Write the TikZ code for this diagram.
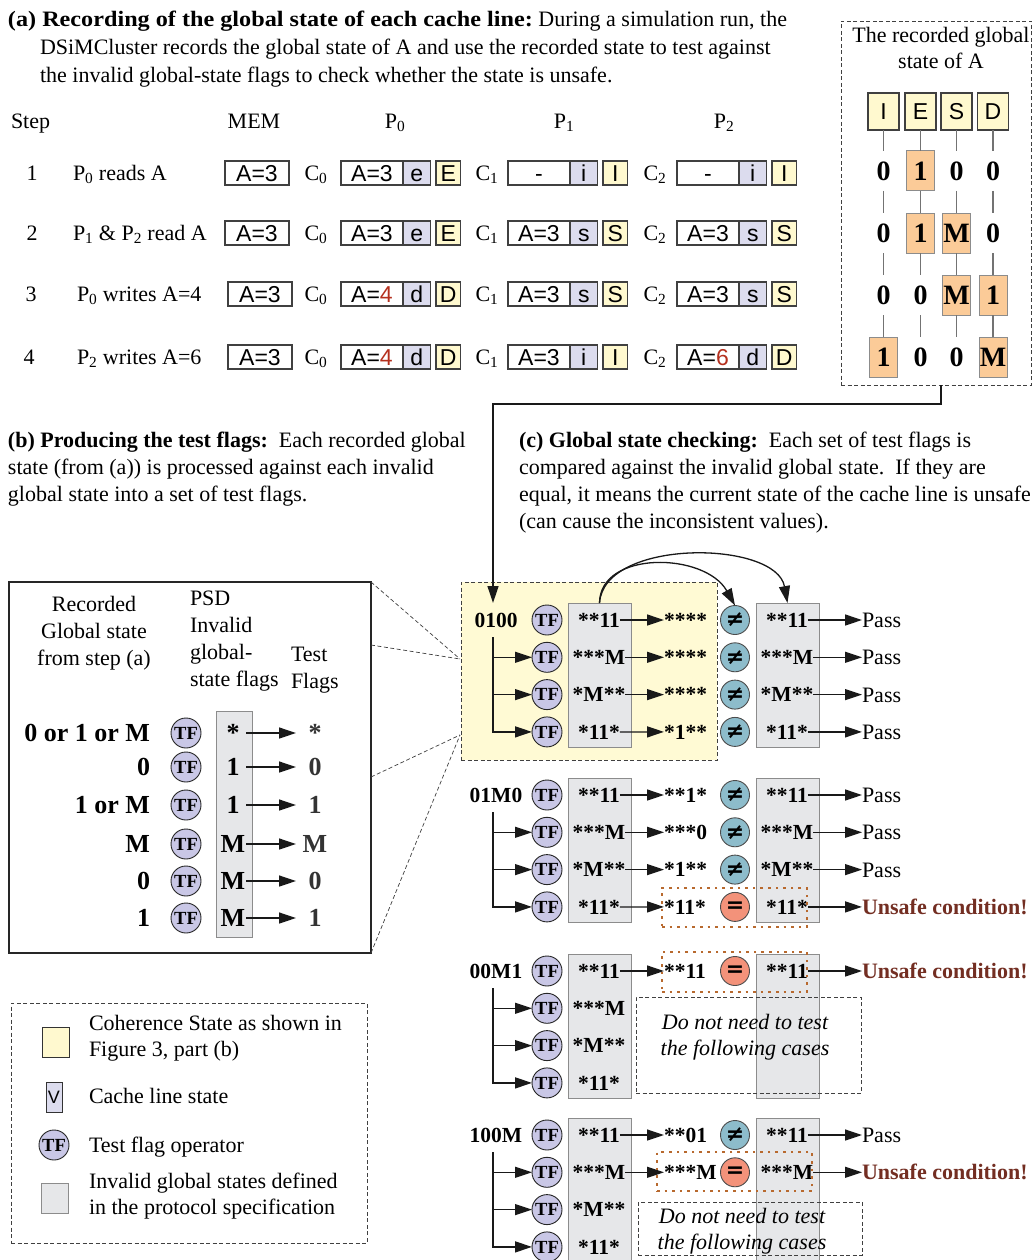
\documentclass[tikz,border=0pt]{standalone}
\usepackage{fontspec}
\setmainfont{Liberation Serif}
\newfontfamily\cellfont{Liberation Sans}
\newfontfamily\symfont{DejaVu Sans}
\usetikzlibrary{arrows.meta,calc}

\definecolor{cohY}{HTML}{FFF9CF}
\definecolor{lineSt}{HTML}{DCDCEE}
\definecolor{tfFill}{HTML}{C9C7E6}
\definecolor{neqFill}{HTML}{8DBCCB}
\definecolor{eqFill}{HTML}{F3927A}
\definecolor{invGray}{HTML}{E6E7E9}
\definecolor{hiOrange}{HTML}{FBCB98}
\definecolor{areaY}{HTML}{FFFAD4}
\definecolor{alertRed}{HTML}{732E22}
\definecolor{digitRed}{HTML}{B5301E}
\definecolor{hiliteC}{HTML}{B8692E}

\tikzset{
  lbl/.style={font=\fontsize{22}{26}\selectfont, text height=14.8pt, text depth=0pt},
  lblw/.style={lbl, anchor=west},
  itl/.style={lbl, font=\fontsize{22}{26}\selectfont\itshape},
  bigflag/.style={font=\bfseries\fontsize{26}{26}\selectfont, text height=17.5pt, text depth=0pt},
  flag/.style={font=\bfseries\fontsize{21.5}{21.5}\selectfont, text height=14.3pt, text depth=0pt},
  datacell/.style={draw=black!75, line width=1.1pt, fill=white, anchor=west, minimum height=24pt,
    text height=16.5pt, text depth=0pt, font=\cellfont\fontsize{23}{23}\selectfont},
  statecell/.style={datacell, fill=lineSt, minimum width=27.5pt},
  cohcell/.style={datacell, fill=cohY, minimum width=24.5pt},
  hdrcell/.style={draw=black!75, line width=1.1pt, fill=cohY, minimum width=31pt, minimum height=37pt,
    text height=16pt, text depth=0pt, font=\cellfont\fontsize{23}{23}\selectfont},
  rpcell/.style={minimum width=28pt, minimum height=40pt, text height=19pt, text depth=0pt,
    font=\bfseries\fontsize{28}{28}\selectfont},
  rphot/.style={rpcell, draw=black!45, line width=1pt, fill=hiOrange},
  vline/.style={draw=black!55, line width=1.2pt},
  tf/.style={circle, draw=black!85, line width=0.9pt, fill=tfFill, minimum size=30pt,
    text height=12.5pt, text depth=0pt, font=\bfseries\fontsize{18.5}{18.5}\selectfont},
  cmpcirc/.style={circle, draw=black!70, line width=0.9pt, minimum size=29pt,
    font=\symfont\bfseries\fontsize{22}{22}\selectfont},
  neq/.style={cmpcirc, fill=neqFill},
  eqc/.style={cmpcirc, fill=eqFill},
  graycol/.style={draw=black!45, line width=1pt, fill=invGray, minimum width=63pt},
  conn/.style={line width=1.3pt, draw=black!90},
  arr/.style={conn, -{Triangle[length=17pt,width=11pt]}},
  dashbox/.style={draw=black!75, line width=0.8pt, dash pattern=on 4pt off 2.5pt},
  zoomline/.style={draw=black!75, line width=0.7pt, dash pattern=on 4pt off 2.5pt},
  hilite/.style={draw=hiliteC, line width=2.6pt, dash pattern=on 2.6pt off 5pt},
  outc/.style={lbl, anchor=west},
  pass/.style={outc},
  unsafe/.style={outc, font=\bfseries\fontsize{22}{26}\selectfont, text=alertRed},
}

% symbols and outcome texts looked up by style name
\newcommand{\txtneq}{≠}
\newcommand{\txteqc}{=}
\newcommand{\txtpass}{Pass}
\newcommand{\txtunsafe}{Unsafe condition!}

% one cache: data field, cache-line state, coherence state
\newcommand{\cacheentry}[6]{%
  \node[datacell, minimum width=62pt] (#1d) at (#2,#3) {#4};
  \node[statecell] (#1s) at (#1d.east) {#5};
  \node[cohcell] (#1c) at ([xshift=5.5pt]#1s.east) {#6};
}

% recorded state fed into four test-flag operators
\newcommand{\checkgroup}[3]{%
  \node[graycol, minimum height=144pt] (#1ca) at (599.5,#3+55) {};
  \node[graycol, minimum height=144pt] (#1cb) at (787.5,#3+55) {};
  \node[flag] (#1lab) at (496,#3) {#2};
  \coordinate (#1root) at (493,#3+17);
  \foreach \k/\t in {1/{**11},2/{***M},3/{*M**},4/{*11*}}{
    \node[tf] (#1tf\k) at (547,#3+\k*37.3-37.3) {TF};
    \node[flag] (#1a\k) at (599,#3+\k*37.3-37.3) {\t};
  }
  \draw[arr] (#1root |- #1tf2) -- (#1tf2);
  \draw[arr] (#1root |- #1tf3) -- (#1tf3);
  \draw[arr] (#1root) |- (#1tf4);
}

% test flags compared with the invalid global state
\newcommand{\testrow}[7]{%
  \node[flag, anchor=west] (#1r#2) at (664,#3) {#4};
  \draw[arr] (#1a#2) -- (#1r#2);
  \node[#5] (#1q#2) at (735,#3) {\csname txt#5\endcsname};
  \node[flag] (#1b#2) at (787,#3) {#6};
  \node[#7] (#1o#2) at (862,#3) {\csname txt#7\endcsname};
  \draw[arr] (#1b#2) -- (#1o#2);
}

\begin{document}
\begin{tikzpicture}[x=1pt,y=-1pt, every node/.style={inner sep=0pt, outer sep=0pt}]
\fill[white] (0,0) rectangle (1035,1260);
\useasboundingbox (0,0) rectangle (1035,1260);

% ---------- (a) heading ----------
\node[lblw] (ha1) at (8,19) {\scalebox{1.1}[1]{\textbf{(a) Recording of the global state of each cache line:}} During a simulation run, the};
\node[lblw] (ha2) at (40,47) {DSiMCluster records the global state of A and use the recorded state to test against};
\node[lblw] (ha3) at (40,75) {the invalid global-state flags to check whether the state is unsafe.};

% ---------- step table ----------
\node[lblw] (hstep) at (11,121) {Step};
\node[lbl] (hmem) at (254,121) {MEM};
\node[lbl] (hp0) at (395,121) {P\textsubscript{0}};
\node[lbl] (hp1) at (564,121) {P\textsubscript{1}};
\node[lbl] (hp2) at (724,121) {P\textsubscript{2}};

\node[lbl] (n1) at (32,173) {1};
\node[lblw] (t1) at (73,173) {P\textsubscript{0} reads A};
\node[datacell, minimum width=64pt] (m1) at (225,173) {A=3};
\node[lbl] (ca1) at (316,173) {C\textsubscript{0}};
\cacheentry{pa1}{341}{173}{A=3}{e}{E}
\node[lbl] (cb1) at (487,173) {C\textsubscript{1}};
\cacheentry{pb1}{508}{173}{-}{i}{I}
\node[lbl] (cc1) at (655,173) {C\textsubscript{2}};
\cacheentry{pc1}{677}{173}{-}{i}{I}

\node[lbl] (n2) at (32,233) {2};
\node[lblw] (t2) at (73,233) {P\textsubscript{1} \& P\textsubscript{2} read A};
\node[datacell, minimum width=64pt] (m2) at (225,233) {A=3};
\node[lbl] (ca2) at (316,233) {C\textsubscript{0}};
\cacheentry{pa2}{341}{233}{A=3}{e}{E}
\node[lbl] (cb2) at (487,233) {C\textsubscript{1}};
\cacheentry{pb2}{508}{233}{A=3}{s}{S}
\node[lbl] (cc2) at (655,233) {C\textsubscript{2}};
\cacheentry{pc2}{677}{233}{A=3}{s}{S}

\node[lbl] (n3) at (31,294) {3};
\node[lblw] (t3) at (77,294) {P\textsubscript{0} writes A=4};
\node[datacell, minimum width=64pt] (m3) at (228,294) {A=3};
\node[lbl] (ca3) at (316,294) {C\textsubscript{0}};
\cacheentry{pa3}{341}{294}{A=\textcolor{digitRed}{4}}{d}{D}
\node[lbl] (cb3) at (487,294) {C\textsubscript{1}};
\cacheentry{pb3}{508}{294}{A=3}{s}{S}
\node[lbl] (cc3) at (655,294) {C\textsubscript{2}};
\cacheentry{pc3}{677}{294}{A=3}{s}{S}

\node[lbl] (n4) at (29,357) {4};
\node[lblw] (t4) at (77,357) {P\textsubscript{2} writes A=6};
\node[datacell, minimum width=64pt] (m4) at (228,357) {A=3};
\node[lbl] (ca4) at (316,357) {C\textsubscript{0}};
\cacheentry{pa4}{341}{357}{A=\textcolor{digitRed}{4}}{d}{D}
\node[lbl] (cb4) at (487,357) {C\textsubscript{1}};
\cacheentry{pb4}{508}{357}{A=3}{i}{I}
\node[lbl] (cc4) at (655,357) {C\textsubscript{2}};
\cacheentry{pc4}{677}{357}{A=\textcolor{digitRed}{6}}{d}{D}

% ---------- recorded global state ----------
\node[dashbox, minimum width=190pt, minimum height=364pt] (rp) at (936,203) {};
\node[lbl] (rpt1) at (941,35) {The recorded global};
\node[lbl] (rpt2) at (941,61) {state of A};
\node[hdrcell] (rph1) at (883.5,111.5) {I};
\node[hdrcell] (rph2) at (920.5,111.5) {E};
\node[hdrcell] (rph3) at (956.5,111.5) {S};
\node[hdrcell] (rph4) at (993,111.5) {D};

\node[rpcell] (rp11) at (883.5,171) {0};
\node[rphot]  (rp12) at (920.5,171) {1};
\node[rpcell] (rp13) at (956.5,171) {0};
\node[rpcell] (rp14) at (993,171) {0};

\node[rpcell] (rp21) at (883.5,233) {0};
\node[rphot]  (rp22) at (920.5,233) {1};
\node[rphot]  (rp23) at (956.5,233) {M};
\node[rpcell] (rp24) at (993,233) {0};

\node[rpcell] (rp31) at (883.5,295) {0};
\node[rpcell] (rp32) at (920.5,295) {0};
\node[rphot]  (rp33) at (956.5,295) {M};
\node[rphot]  (rp34) at (993,295) {1};

\node[rphot]  (rp41) at (883.5,357) {1};
\node[rpcell] (rp42) at (920.5,357) {0};
\node[rpcell] (rp43) at (956.5,357) {0};
\node[rphot]  (rp44) at (993,357) {M};

\foreach \j in {1,2,3,4}{
  \draw[vline] (rph\j) -- (rp1\j);
  \draw[vline] (rp1\j) -- (rp2\j);
  \draw[vline] (rp2\j) -- (rp3\j);
  \draw[vline] (rp3\j) -- (rp4\j);
}

% ---------- (b) heading ----------
\node[lblw] (hb1) at (8,440) {\textbf{(b) Producing the test flags:}\ \ Each recorded global};
\node[lblw] (hb2) at (8,467) {state (from (a)) is processed against each invalid};
\node[lblw] (hb3) at (8,494) {global state into a set of test flags.};

% ---------- (c) heading ----------
\node[lblw] (hc1) at (519,440) {\textbf{(c) Global state checking:}\ \ Each set of test flags is};
\node[lblw] (hc2) at (519,467) {compared against the invalid global state.\ \ If they are};
\node[lblw] (hc3) at (519,494) {equal, it means the current state of the cache line is unsafe};
\node[lblw] (hc4) at (519,521) {(can cause the inconsistent values).};

% ---------- (b) test-flag table ----------
\node[draw=black!85, line width=1.2pt, minimum width=362pt, minimum height=371pt] (bb) at (190,767.5) {};
\node[lbl] (bh1) at (94,604) {Recorded};
\node[lbl] (bh2) at (94,631) {Global state};
\node[lbl] (bh3) at (94,658) {from step (a)};
\node[lblw] (bh4) at (190,598) {PSD};
\node[lblw] (bh5) at (190,625) {Invalid};
\node[lblw] (bh6) at (190,652) {global-};
\node[lblw] (bh7) at (190,679) {state flags};
\node[lblw] (bh8) at (291,654) {Test};
\node[lblw] (bh9) at (291,681) {Flags};
\node[graycol, minimum width=36pt, minimum height=226pt] (bcol) at (234,824) {};
\foreach \k/\y/\l/\v/\f in {1/733/{0 or 1 or M}/{*}/{*}, 2/767/0/1/0, 3/805/{1 or M}/1/1,
                            4/844/M/M/M, 5/881/0/M/0, 6/918/1/M/1}{
  \node[bigflag, anchor=east] (bl\k) at (150,\y) {\l};
  \node[tf] (btf\k) at (186,\y) {TF};
  \node[bigflag, minimum width=26pt] (bv\k) at (233,\y) {\v};
  \node[bigflag, minimum width=38pt, text=black!80] (bt\k) at (315,\y) {\f};
  \draw[arr] (bv\k) -- (bt\k);
}

% ---------- (c) checking ----------
\node[dashbox, fill=areaY, minimum width=256pt, minimum height=178pt] (ybox) at (589,671) {};
\coordinate (zA) at (460,659);
\coordinate (zB) at (460,735);
\draw[zoomline] (bb.north east) -- (zA);
\draw[zoomline] ([yshift=-63pt]bb.north east) -- (zA);
\draw[zoomline] ([yshift=-195pt]bb.north east) -- (zB);
\draw[zoomline] (bb.south east) -- (zB);

\checkgroup{g1}{0100}{620}
\testrow{g1}{1}{620}{****}{neq}{**11}{pass}
\testrow{g1}{2}{657.3}{****}{neq}{***M}{pass}
\testrow{g1}{3}{694.6}{****}{neq}{*M**}{pass}
\testrow{g1}{4}{731.9}{*1**}{neq}{*11*}{pass}
\draw[arr] (g1ca.north) .. controls (600,550) and (705,552) .. (g1q1.north);
\draw[arr] (g1ca.north) .. controls (604,538) and (776,540) .. (g1cb.north);

\coordinate (g1in) at (493,603);
\draw[arr] ([xshift=5pt]rp.south) -- ++(0,19) -| (g1in);

\checkgroup{g2}{01M0}{795}
\testrow{g2}{1}{795}{**1*}{neq}{**11}{pass}
\testrow{g2}{2}{832.3}{***0}{neq}{***M}{pass}
\testrow{g2}{3}{869.6}{*1**}{neq}{*M**}{pass}
\testrow{g2}{4}{906.9}{*11*}{eqc}{*11*}{unsafe}
\node[hilite, minimum width=145pt, minimum height=39pt] (g2hl) at (734.5,907.5) {};

\checkgroup{g3}{00M1}{971}
\testrow{g3}{1}{971}{**11}{eqc}{**11}{unsafe}
\node[hilite, minimum width=145pt, minimum height=40pt] (g3hl) at (734.5,972) {};
\node[dashbox, minimum width=225pt, minimum height=96pt] (g3skip) at (748.5,1045) {};
\node[itl] (g3s1) at (745,1022) {Do not need to test};
\node[itl] (g3s2) at (745,1048) {the following cases};

\checkgroup{g4}{100M}{1135}
\testrow{g4}{1}{1135}{**01}{neq}{**11}{pass}
\testrow{g4}{2}{1172.3}{***M}{eqc}{***M}{unsafe}
\node[hilite, minimum width=155pt, minimum height=39pt] (g4hl) at (734.5,1171.5) {};
\node[dashbox, minimum width=224pt, minimum height=53pt] (g4skip) at (750,1228.5) {};
\node[itl] (g4s1) at (742,1216) {Do not need to test};
\node[itl] (g4s2) at (742,1242) {the following cases};

% ---------- legend ----------
\node[dashbox, minimum width=356pt, minimum height=240pt] (lg) at (189,1123) {};
\node[draw=black!80, line width=1pt, fill=cohY, minimum width=27pt, minimum height=30pt] (lgc) at (55.5,1042) {};
\node[draw=black!80, line width=1pt, fill=lineSt, minimum width=16pt, minimum height=30pt,
      font=\cellfont\fontsize{18}{18}\selectfont] (lgv) at (54,1097) {V};
\node[tf] (lgt) at (54,1145) {TF};
\node[graycol, minimum width=27pt, minimum height=30pt] (lgg) at (54.5,1198) {};
\node[lblw] (lg1) at (89,1023) {Coherence State as shown in};
\node[lblw] (lg2) at (89,1049) {Figure 3, part (b)};
\node[lblw] (lg3) at (89,1096) {Cache line state};
\node[lblw] (lg4) at (89,1145) {Test flag operator};
\node[lblw] (lg5) at (89,1181) {Invalid global states defined};
\node[lblw] (lg6) at (89,1207) {in the protocol specification};
\end{tikzpicture}
\end{document}
